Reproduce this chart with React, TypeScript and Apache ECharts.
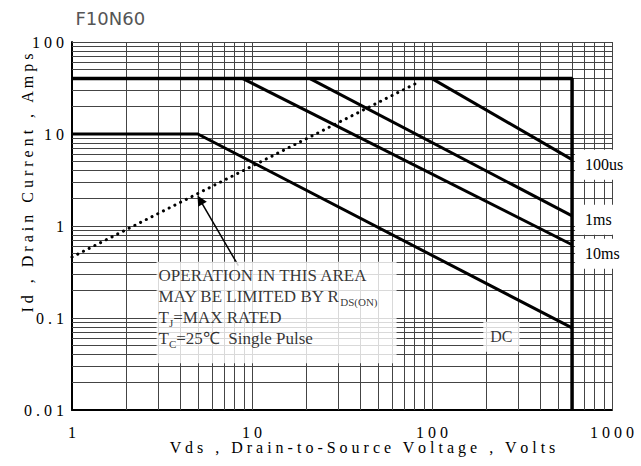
import React, { useEffect, useRef } from "react";
import * as echarts from "echarts";

// ---- data ----
const xTickValues = [1, 10, 100, 1000];
const xTickLabels = ["1", "10", "100", "1000"];
const yTickValues = [0.01, 0.1, 1, 10, 100];
const yTickLabels = ["0.01", "0.1", "1", "10", "100"];

const gridX = [
  2, 3, 4, 5, 6, 7, 8, 9,
  10, 20, 30, 40, 50, 60, 70, 80, 90,
  100, 200, 300, 400, 500, 600, 700, 800, 900,
  1000,
];
const gridY = [
  0.02, 0.03, 0.04, 0.05, 0.06, 0.07, 0.08, 0.09,
  0.1, 0.2, 0.3, 0.4, 0.5, 0.6, 0.7, 0.8, 0.9,
  1, 2, 3, 4, 5, 6, 7, 8, 9,
  10, 20, 30, 40, 50, 60, 70, 80, 90,
  100,
];

const limitLine = [[1, 40], [600, 40], [600, 0.01]];
const pulse100us = [[100, 40], [600, 5.26]];
const pulse1ms = [[21, 40], [600, 1.29]];
const pulse10ms = [[8.9, 40], [600, 0.626]];
const dcLine = [[1, 10], [5, 10], [600, 0.078]];
const rdsOnLine = [[1, 0.46], [85, 37]];

const arrowFrom = [8.4, 0.37];
const arrowTo = [5.14, 1.92];
const dcLabelAt = [243, 0.0626];
const noteAt = [2.95, 0.409];

const SERIF = "Liberation Serif, Times New Roman, serif";
const SANS = "DejaVu Sans, sans-serif";
const spaced = (s: string) => s.split("").join(" ");

function tickLabel(values: number[], labels: string[], v: number) {
  const i = values.findIndex((t) => Math.abs(Math.log10(t) - Math.log10(v)) < 1e-6);
  return i >= 0 ? spaced(labels[i]) : "";
}

export default function App() {
  const ref = useRef<HTMLDivElement>(null);

  useEffect(() => {
    if (!ref.current) return;
    const chart = echarts.init(ref.current, null, { renderer: "svg" });

    const gridLineStyle = { color: "#444", width: 1, type: "solid" as const };
    const curveStyle = { color: "#000", width: 3, type: "solid" as const };

    const endLabel = (text: string, dy: number) => ({
      show: true,
      formatter: text,
      fontFamily: SERIF,
      fontSize: 16,
      color: "#000",
      backgroundColor: "#fff",
      padding: [7, 4, 7, 10],
      distance: 3,
      offset: [0, dy],
    });

    const option: any = {
      animation: false,
      grid: { left: 72, top: 42, width: 540, height: 368, containLabel: false, outerBoundsMode: "none" },
      xAxis: {
        type: "log",
        logBase: 10,
        min: 1,
        max: 1000,
        axisLine: { show: true, onZero: false, lineStyle: { color: "#000", width: 2 } },
        axisTick: { show: false },
        splitLine: { show: false },
        axisLabel: {
          formatter: (v: number) => tickLabel(xTickValues, xTickLabels, v),
          fontFamily: SERIF,
          fontSize: 16,
          color: "#000",
          margin: 14,
        },
      },
      yAxis: {
        type: "log",
        logBase: 10,
        min: 0.01,
        max: 100,
        axisLine: { show: true, onZero: false, lineStyle: { color: "#000", width: 2 } },
        axisTick: { show: false },
        splitLine: { show: false },
        axisLabel: {
          formatter: (v: number) => tickLabel(yTickValues, yTickLabels, v),
          fontFamily: SERIF,
          fontSize: 16,
          color: "#000",
          margin: 8,
        },
      },
      graphic: [
        {
          type: "text",
          x: 75.5,
          y: 18.8,
          style: {
            text: "F10N60",
            fontFamily: SANS,
            fontSize: 18,
            fontWeight: "normal",
            fill: "#555",
            textAlign: "left",
            textVerticalAlign: "middle",
          },
        },
        {
          type: "text",
          x: 27,
          y: 183,
          rotation: Math.PI / 2,
          style: {
            text: spaced("Id , Drain Current , Amps"),
            fontFamily: SERIF,
            fontSize: 16,
            fill: "#000",
            textAlign: "center",
            textVerticalAlign: "middle",
          },
        },
        {
          type: "text",
          x: 362.5,
          y: 447.5,
          style: {
            text: spaced("Vds , Drain-to-Source Voltage , Volts"),
            fontFamily: SERIF,
            fontSize: 16,
            fill: "#000",
            textAlign: "center",
            textVerticalAlign: "middle",
          },
        },
      ],
      series: [
        {
          type: "line",
          name: "grid",
          z: 1,
          silent: true,
          data: [],
          showSymbol: false,
          markLine: {
            z: 1,
            silent: true,
            animation: false,
            symbol: ["none", "none"],
            label: { show: false },
            emphasis: { disabled: true },
            lineStyle: gridLineStyle,
            data: [
              ...gridX.map((v) => ({ xAxis: v })),
              ...gridY.map((v) => ({ yAxis: v })),
            ],
          },
        },
        {
          type: "line",
          name: "limit",
          z: 2,
          silent: true,
          showSymbol: false,
          data: limitLine,
          lineStyle: { ...curveStyle, width: 3.5 },
        },
        {
          type: "line",
          name: "100us",
          z: 2,
          silent: true,
          showSymbol: false,
          data: pulse100us,
          lineStyle: curveStyle,
          endLabel: endLabel("100us", 5),
        },
        {
          type: "line",
          name: "1ms",
          z: 2,
          silent: true,
          showSymbol: false,
          data: pulse1ms,
          lineStyle: curveStyle,
          endLabel: endLabel("1ms", 4),
        },
        {
          type: "line",
          name: "10ms",
          z: 2,
          silent: true,
          showSymbol: false,
          data: pulse10ms,
          lineStyle: curveStyle,
          endLabel: endLabel("10ms", 9),
        },
        {
          type: "line",
          name: "DC",
          z: 2,
          silent: true,
          showSymbol: false,
          data: dcLine,
          lineStyle: curveStyle,
        },
        {
          type: "line",
          name: "RDS(on)",
          z: 2,
          silent: true,
          showSymbol: false,
          data: rdsOnLine,
          lineStyle: { color: "#000", width: 3, type: [0.1, 6.3], cap: "round" },
        },
        {
          type: "line",
          name: "arrow",
          z: 2,
          silent: true,
          data: [],
          markLine: {
            z: 2,
            silent: true,
            animation: false,
            symbol: ["none", "triangle"],
            symbolSize: 10,
            label: { show: false },
            emphasis: { disabled: true },
            lineStyle: { color: "#000", width: 1.5, type: "solid" },
            itemStyle: { color: "#000" },
            data: [[{ coord: arrowFrom }, { coord: arrowTo }]],
          },
        },
        {
          type: "scatter",
          name: "notes",
          z: 3,
          silent: true,
          symbolSize: 0,
          data: [
            {
              value: dcLabelAt,
              label: {
                show: true,
                position: "inside",
                formatter: "DC",
                fontFamily: SERIF,
                fontSize: 16,
                color: "#000",
                backgroundColor: "#fff",
                padding: [7, 7, 7, 7],
              },
            },
            {
              value: noteAt,
              label: {
                show: true,
                position: [0, 0],
                align: "left",
                verticalAlign: "top",
                backgroundColor: "#fff",
                padding: [3.5, 2, 14, 2],
                width: 236,
                formatter:
                  "{a|OPERATION IN THIS AREA}\n" +
                  "{a|MAY BE LIMITED BY R}{s|DS(ON)}\n" +
                  "{a|T}{s|J}{a|=MAX RATED}\n" +
                  "{a|T}{s|C}{a|=25℃  Single Pulse}",
                rich: {
                  a: { fontFamily: SERIF, fontSize: 17, lineHeight: 21, color: "#000" },
                  s: {
                    fontFamily: SERIF,
                    fontSize: 11,
                    lineHeight: 14,
                    verticalAlign: "bottom",
                    color: "#000",
                  },
                },
              },
            },
          ],
        },
      ],
    };

    chart.setOption(option);
    return () => chart.dispose();
  }, []);

  return (
    <div
      ref={ref}
      style={{ position: "fixed", left: 0, top: 0, width: 641, height: 466, background: "#fff" }}
    />
  );
}
